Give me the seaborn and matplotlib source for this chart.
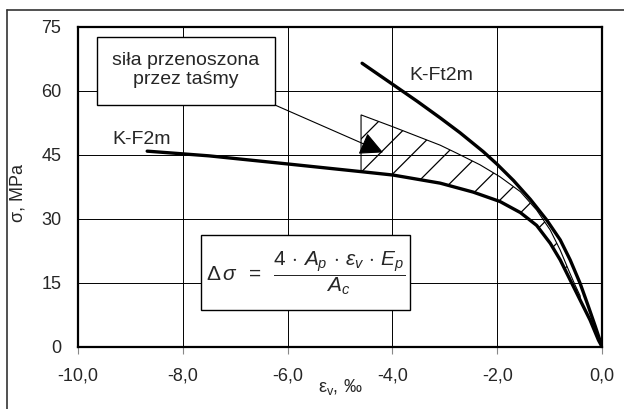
import numpy as np
import seaborn as sns
import matplotlib.pyplot as plt
from matplotlib.patches import Rectangle, Polygon
from matplotlib.lines import Line2D

# -----------------------------
# Data
# -----------------------------
# K-F2m (without tapes)
kf_x = [-8.68, -7.5, -6.0, -4.6, -3.99, -3.09, -2.46, -1.95, -1.56, -1.25,
        -0.99, -0.80, -0.61, -0.42, -0.23, -0.07, 0.0]
kf_y = [45.9, 44.8, 42.9, 41.1, 40.3, 38.4, 36.3, 34.1, 31.5, 28.5,
        24.3, 20.4, 15.7, 11.0, 6.3, 1.6, 0.0]

# K-Ft2m (with tapes)
kft_x = [-4.58, -3.99, -3.53, -3.09, -2.71, -2.27, -2.01, -1.69, -1.37,
         -1.06, -0.80, -0.61, -0.42, -0.26, -0.13, 0.0]
kft_y = [66.5, 61.5, 57.6, 53.7, 50.2, 45.8, 42.9, 39.0, 34.6,
         29.8, 25.1, 20.4, 14.9, 9.4, 4.8, 0.0]

# upper edge of hatched area (K-F2m + force carried by tapes)
dsig_x = [-4.6, -3.99, -3.09, -2.77, -2.33, -1.95, -1.56, -1.25, -0.99,
          -0.80, -0.64, -0.52, -0.42]
dsig_y = [54.4, 51.6, 47.3, 45.4, 42.7, 39.9, 36.4, 32.1, 27.4,
          22.7, 18.0, 14.6, 12.0]

x_ticks = [-10, -8, -6, -4, -2, 0]
x_tick_labels = ["-10,0", "-8,0", "-6,0", "-4,0", "-2,0", "0,0"]
y_ticks = [0, 15, 30, 45, 60, 75]

# -----------------------------
# Style
# -----------------------------
sns.set_style("white")
plt.rcParams["font.family"] = ["Liberation Sans", "DejaVu Sans"]
plt.rcParams["mathtext.fontset"] = "custom"
plt.rcParams["mathtext.rm"] = "Liberation Sans"
plt.rcParams["mathtext.it"] = "Liberation Sans:italic"
plt.rcParams["hatch.linewidth"] = 0.9
plt.rcParams["hatch.color"] = "black"

fig = plt.figure(figsize=(6.24, 4.09), dpi=100)
ax = fig.add_axes([0.125, 0.1516, 0.840, 0.7824])

# outer frame (runs off the right and bottom edge)
fig.add_artist(Line2D([0.0112, 1.0], [0.9756, 0.9756], transform=fig.transFigure,
                      color="#333333", lw=1.2))
fig.add_artist(Line2D([0.0112, 0.0112], [0.0, 0.9756], transform=fig.transFigure,
                      color="#333333", lw=1.2))

# -----------------------------
# Hatched area
# -----------------------------
kf_arr_x = np.array(kf_x)
kf_arr_y = np.array(kf_y)
sel = (kf_arr_x >= dsig_x[0]) & (kf_arr_x <= dsig_x[-1])
poly_x = list(dsig_x) + list(kf_arr_x[sel][::-1])
poly_y = list(dsig_y) + list(kf_arr_y[sel][::-1])
ax.add_patch(Polygon(np.column_stack([poly_x, poly_y]), closed=True,
                     facecolor="none", edgecolor="black", lw=0.8,
                     hatch="/", zorder=3))

# -----------------------------
# Curves
# -----------------------------
sns.lineplot(x=kf_x, y=kf_y, ax=ax, color="black", lw=2.4, sort=False,
             estimator=None, zorder=4)
sns.lineplot(x=kft_x, y=kft_y, ax=ax, color="black", lw=2.4, sort=False,
             estimator=None, zorder=4)
for ln in ax.lines:
    ln.set_solid_joinstyle("round")
    ln.set_solid_capstyle("round")

ax.text(-8.78, 48.7, "K-F2m", fontsize=14, ha="center", va="center")
ax.text(-3.07, 63.7, "K-Ft2m", fontsize=14, ha="center", va="center")

# label box with arrow
ax.add_patch(Rectangle((-9.63, 56.7), 3.39, 16.0, facecolor="white",
                       edgecolor="black", lw=1.0, zorder=5))
ax.text(-7.95, 64.9, "siła przenoszona\nprzez taśmy", fontsize=14,
        ha="center", va="center", linespacing=1.2, zorder=6)
ax.annotate("", xy=(-4.18, 45.6), xytext=(-6.24, 56.7),
            arrowprops=dict(arrowstyle="-|>,head_length=0.6,head_width=0.3",
                            color="black", lw=0.8,
                            mutation_scale=24, shrinkA=0, shrinkB=0),
            zorder=6)

# formula box
ax.add_patch(Rectangle((-7.65, 8.7), 3.99, 17.5, facecolor="white",
                       edgecolor="black", lw=1.0, zorder=5))
ax.text(-5.66, 17.3,
        r"$\Delta\,\sigma\;\;=\;\;\dfrac{4\,\cdot\,A_{p}\,\cdot\,\varepsilon_{v}\,\cdot\,E_{p}}{A_{c}}$",
        fontsize=15, ha="center", va="center", zorder=6)

# -----------------------------
# Axes
# -----------------------------
ax.set_xlim(-10, 0)
ax.set_ylim(0, 75)
ax.set_xticks(x_ticks)
ax.set_xticklabels(x_tick_labels)
ax.set_yticks(y_ticks)
ax.set_yticklabels([str(v) for v in y_ticks])
ax.grid(True, color="black", lw=0.7)
ax.set_axisbelow(True)
for s in ax.spines.values():
    s.set_color("black")
    s.set_linewidth(1.6)
ax.tick_params(axis="x", direction="out", length=5, width=0.8, color="#888888",
               pad=10, labelsize=13, bottom=True)
ax.tick_params(axis="y", length=0, pad=12, labelsize=13, left=True)

ax.set_xlabel("ε$_\\mathregular{v}$, ‰", fontsize=13)
ax.xaxis.set_label_coords(0.50, -0.095)
ax.set_ylabel("σ, MPa", fontsize=13)
ax.yaxis.set_label_coords(-0.098, 0.48)

plt.savefig("out.png", dpi=100)
plt.close()
